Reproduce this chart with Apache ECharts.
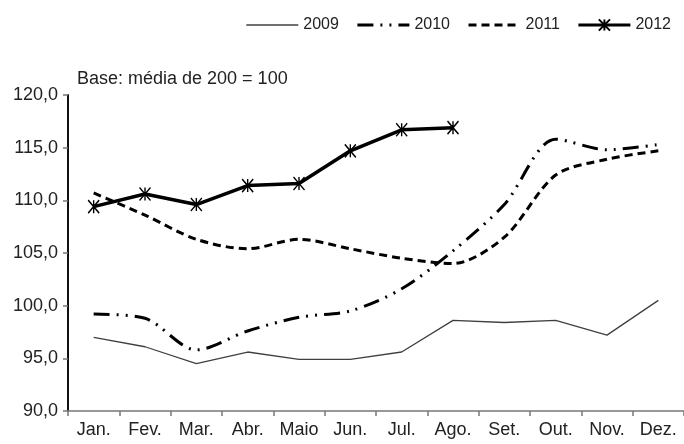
<!DOCTYPE html>
<html><head><meta charset="utf-8">
<script src="https://cdn.jsdelivr.net/npm/echarts@6/dist/echarts.min.js"></script>
<style>html,body{margin:0;padding:0;background:#fff}#c{width:684px;height:444px}</style>
</head><body><div id="c"></div>
<script>
const categories = ['Jan.','Fev.','Mar.','Abr.','Maio','Jun.','Jul.','Ago.','Set.','Out.','Nov.','Dez.'];
const s2009 = [97.0, 96.1, 94.5, 95.6, 94.9, 94.9, 95.6, 98.6, 98.4, 98.6, 97.2, 100.5];
const s2010 = [99.2, 98.8, 95.8, 97.6, 98.9, 99.5, 101.6, 105.2, 109.6, 115.8, 114.8, 115.3];
const s2011 = [110.7, 108.6, 106.3, 105.4, 106.3, 105.4, 104.5, 104.0, 106.5, 112.4, 113.9, 114.7];
const s2012 = [109.4, 110.6, 109.6, 111.4, 111.6, 114.7, 116.7, 116.9];
const yTicks = [90, 95, 100, 105, 110, 115, 120];
const note = 'Base: média de 200 = 100';

const font = 'Liberation Sans, Arial, sans-serif';
const chart = echarts.init(document.getElementById('c'));
const star = 'path://M0,0L10,12M10,0L0,12M5,0L5,12';
const hidden = {opacity: 0};
chart.setOption({
  animation: false,
  textStyle: {fontFamily: font},
  legend: {
    top: 12, right: 8, itemWidth: 52, itemHeight: 14, itemGap: 17,
    textStyle: {fontSize: 16, color: '#222', fontFamily: font},
    data: [
      {name: '2009', itemStyle: hidden, lineStyle: {width: 1.3}},
      {name: '2010', itemStyle: hidden, lineStyle: {width: 3}},
      {name: '2011', itemStyle: hidden, lineStyle: {width: 3}},
      {name: '2012', lineStyle: {width: 3}}
    ]
  },
  graphic: [{type: 'text', left: 77, top: 70, style: {text: note, font: '18px ' + font, fill: '#222'}}],
  grid: {left: 68, right: 0, top: 95, bottom: 33},
  xAxis: {
    type: 'category', data: categories, boundaryGap: true,
    axisLine: {lineStyle: {color: '#777', width: 1.5}},
    axisTick: {show: true, length: 5, lineStyle: {color: '#777', width: 1.5}},
    axisLabel: {fontSize: 18, color: '#222', margin: 10, fontFamily: font}
  },
  yAxis: {
    type: 'value', min: yTicks[0], max: yTicks[yTicks.length-1], interval: 5,
    splitLine: {show: false},
    axisLine: {show: true, lineStyle: {color: '#111', width: 2}},
    axisTick: {show: true, length: 5, lineStyle: {color: '#777', width: 1.5}},
    axisLabel: {fontSize: 18, color: '#222', margin: 10, fontFamily: font,
      formatter: v => v.toFixed(1).replace('.', ',')}
  },
  series: [
    {name: '2009', type: 'line', data: s2009, symbol: 'circle', showSymbol: false, lineStyle: {color: '#404040', width: 1.3}, itemStyle: {color: '#404040'}},
    {name: '2010', type: 'line', data: s2010, symbol: 'circle', showSymbol: false, smooth: 0.3, lineStyle: {color: '#000', width: 3, type: [16, 7, 2, 7, 2, 7]}, itemStyle: {color: '#000'}},
    {name: '2011', type: 'line', data: s2011, symbol: 'circle', showSymbol: false, smooth: 0.3, lineStyle: {color: '#000', width: 3, type: [8, 5]}, itemStyle: {color: '#000'}},
    {name: '2012', type: 'line', data: s2012, symbol: star, symbolSize: [11, 13], showAllSymbol: true,
      lineStyle: {color: '#000', width: 3.5}, itemStyle: {color: 'rgba(0,0,0,0)', borderColor: '#000', borderWidth: 1.5}}
  ]
});
</script></body></html>
